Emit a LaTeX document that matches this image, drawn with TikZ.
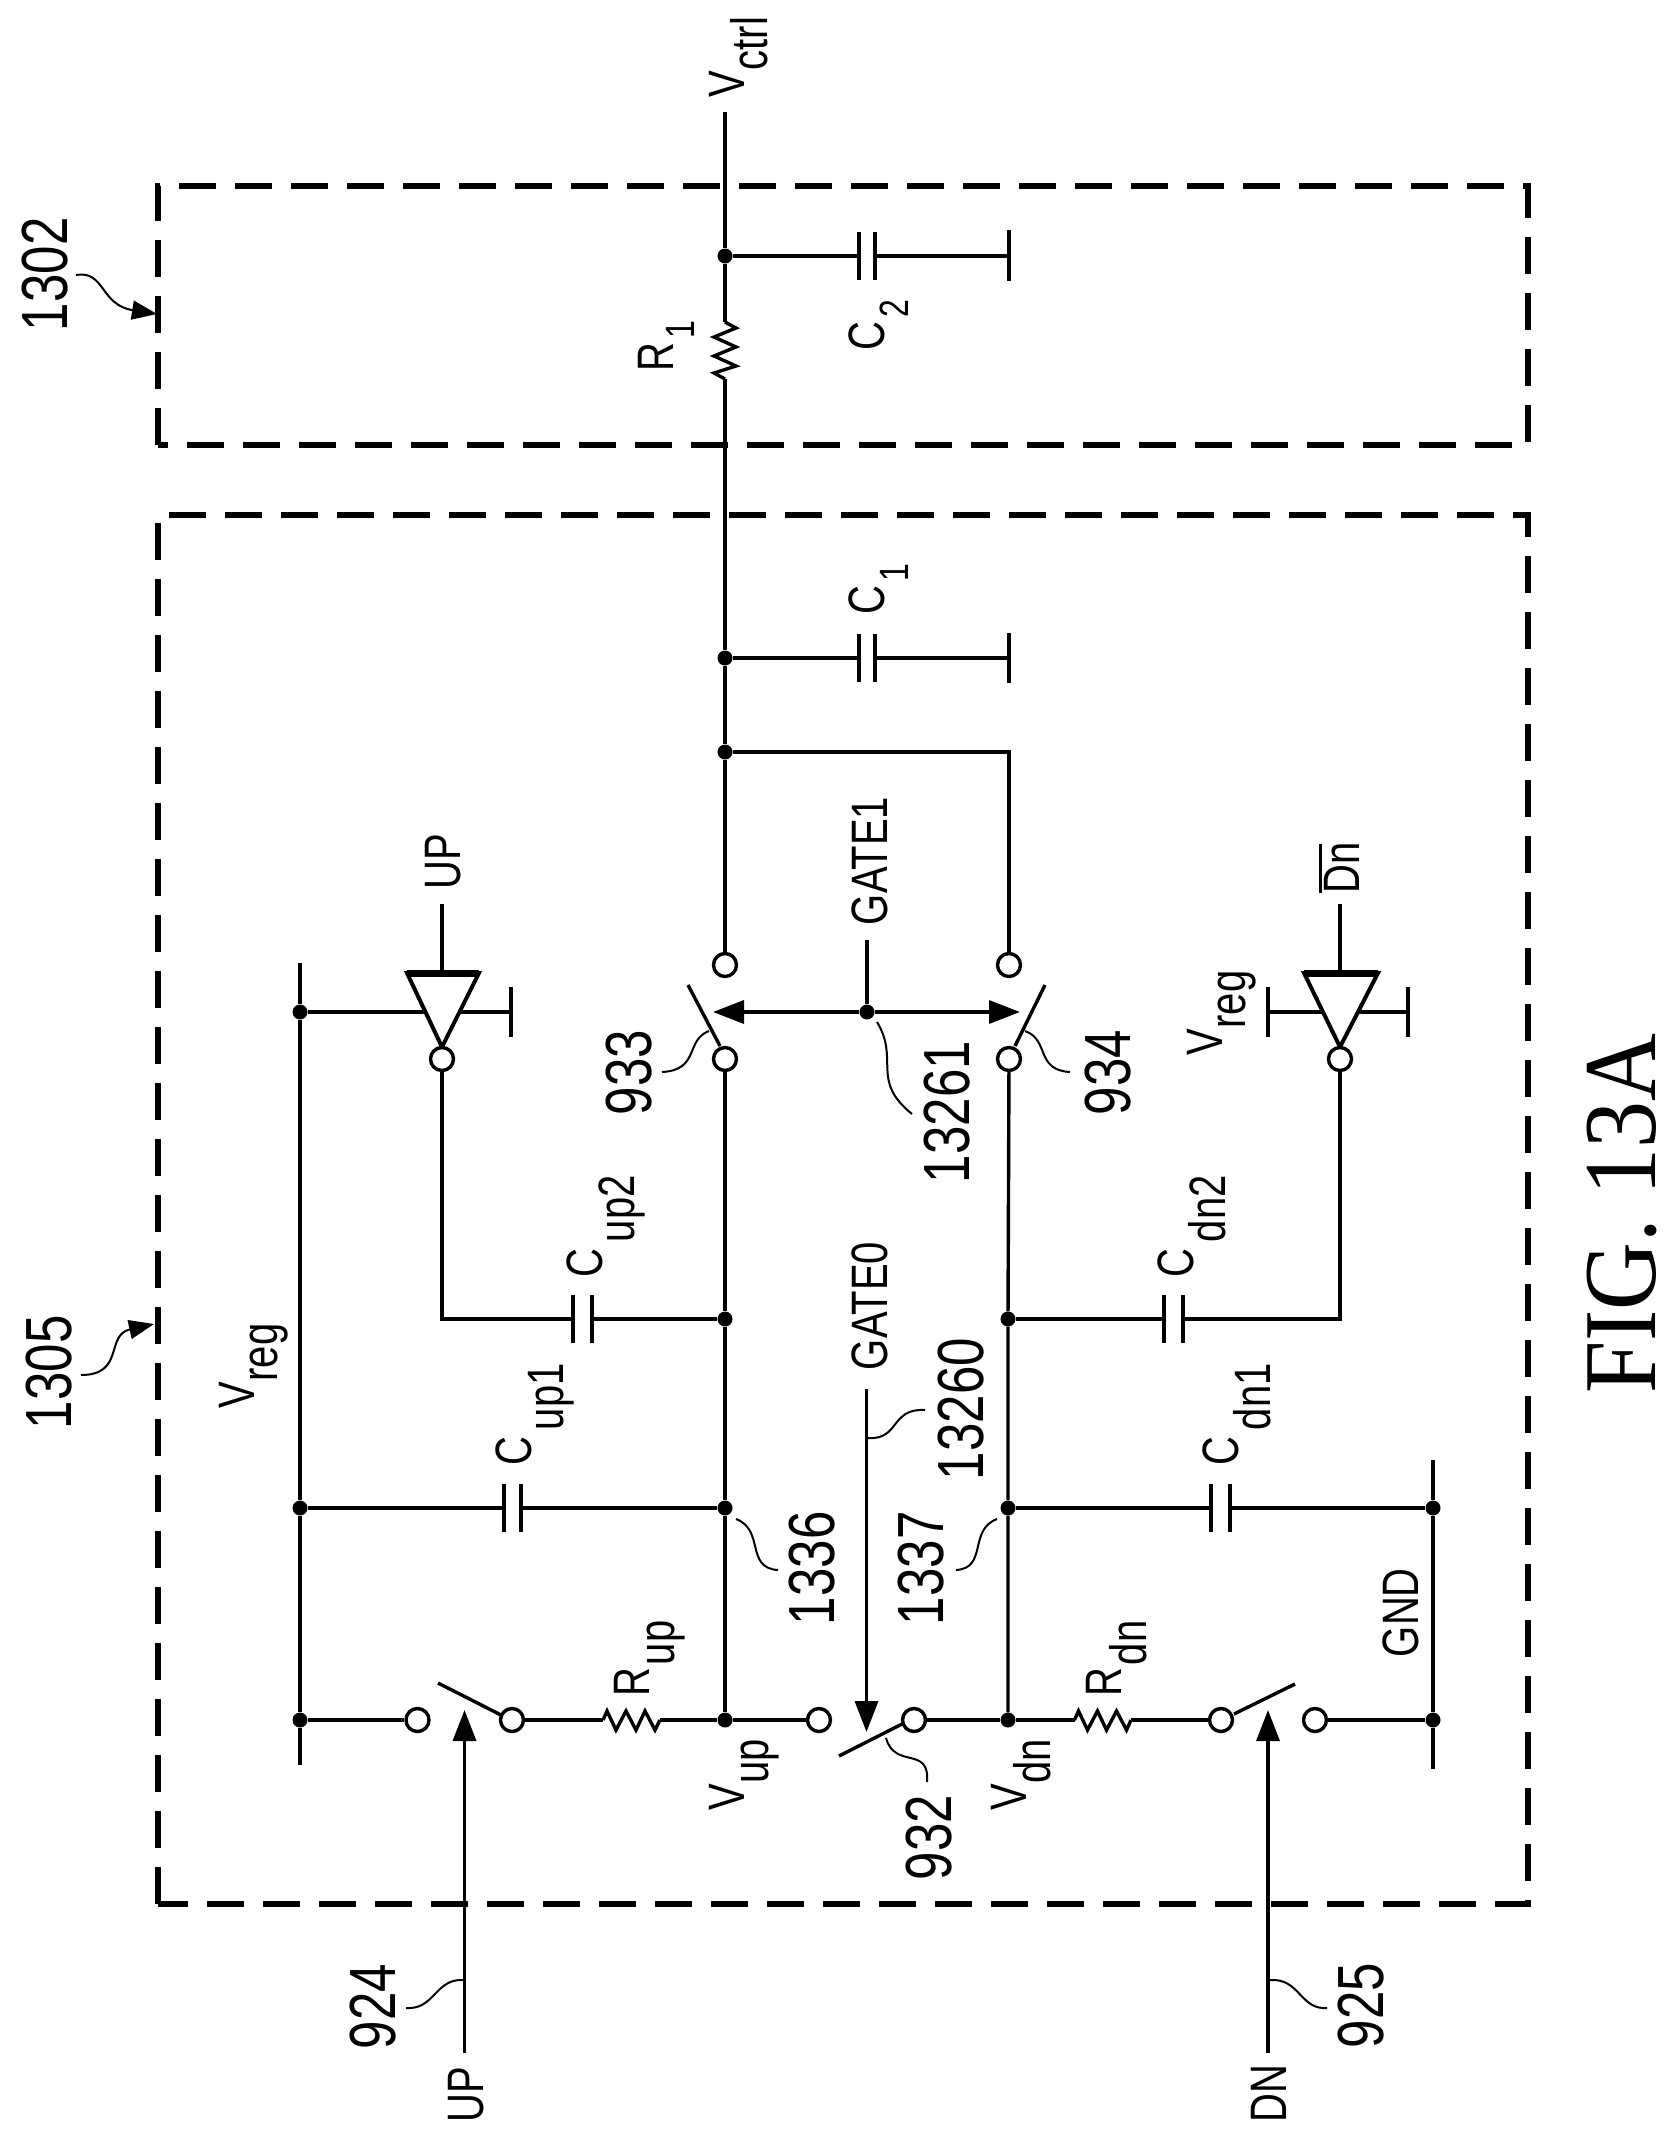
\documentclass[tikz,border=0pt]{standalone}
\usepackage{fontspec}
\setmainfont{Liberation Sans}
\newfontfamily\figfont{Liberation Serif}
\usetikzlibrary{arrows.meta}
\newcommand{\stretchtxt}[1]{\scalebox{1}[1.28]{#1}}
\newcommand{\subl}[4]{#1\hspace{#4}\raisebox{-#3}{#2}}
\newcommand{\subs}[4]{#1\hspace{#4}\raisebox{-#3}{\fontsize{32}{32}\selectfont #2}}
\tikzset{
  x=1pt,y=-1pt,
  wire/.style={line width=3.4pt,line join=miter},
  dashbox/.style={line width=6pt,dash pattern=on 37pt off 19pt},
  term/.style={circle,draw,fill=white,line width=3.4pt,minimum size=23pt,inner sep=0pt},
  junct/.style={circle,fill=black,minimum size=15pt,inner sep=0pt},
  plateV/.style={rectangle,fill=black,minimum width=3.6pt,minimum height=48pt,inner sep=0pt},
  leaderline/.style={line width=2pt},
  lever/.style={line width=3.4pt},
  ctrl/.style={line width=3.6pt,-{Triangle[length=31pt,width=23pt]}},
  leadtip/.style={line width=2pt,-{Triangle[length=25pt,width=19pt]}},
  txt/.style={rotate=90,anchor=base west,inner sep=0pt,outer sep=0pt,font=\fontsize{40}{40}\selectfont},
  big/.style={rotate=90,anchor=base west,inner sep=0pt,outer sep=0pt,font=\fontsize{51}{51}\selectfont},
}
\newcommand{\leader}[6][leaderline]{%
  \coordinate (#2-a) at #3; \coordinate (#2-b) at #6;
  \draw[#1] (#2-a) .. controls #4 and #5 .. (#2-b);}
\begin{document}
\begin{tikzpicture}
\useasboundingbox (0,0) rectangle (1668,2142);
% dashed boxes
\coordinate (b1a) at (158,445); \coordinate (b1b) at (158,186); \coordinate (b1c) at (1528,186); \coordinate (b1d) at (1528,445);
\draw[dashbox] (b1a) -- (b1b) -- (b1c) -- (b1d) -- cycle;
\coordinate (b2a) at (158,1904); \coordinate (b2b) at (158,515); \coordinate (b2c) at (1528,515); \coordinate (b2d) at (1528,1904);
\draw[dashbox] (b2a) -- (b2b) -- (b2c) -- (b2d) -- cycle;

% rails / free ends
\coordinate (vctrl) at (725,112);
\coordinate (r1t) at (725,322); \coordinate (r1b) at (725,379);
\node[junct] (j2) at (725,256) {};
\node[junct] (j1) at (725,658) {};
\node[junct] (jb) at (725,752) {};
\coordinate (c2end) at (1009,256); \coordinate (c2t) at (1009,230); \coordinate (c2u) at (1009,281);
\coordinate (c1end) at (1009,658); \coordinate (c1t) at (1009,633); \coordinate (c1u) at (1009,683);
\coordinate (bc) at (1009,752);
\node[plateV] (c2a) at (859,256) {}; \node[plateV] (c2b) at (875,256) {};
\node[plateV] (c1a) at (859,658) {}; \node[plateV] (c1b) at (875,658) {};
\draw[wire] (vctrl) -- (j2) -- (r1t);
\draw[wire] (r1t) -- ++(11,6) -- ++(-22,9) -- ++(22,10) -- ++(-22,9) -- ++(22,10) -- ++(-22,7) -- (r1b);
\draw[wire] (r1b) -- (j1) -- (jb);
\draw[wire] (j2) -- (c2a); \draw[wire] (c2b) -- (c2end); \draw[wire] (c2t) -- (c2u);
\draw[wire] (j1) -- (c1a); \draw[wire] (c1b) -- (c1end); \draw[wire] (c1t) -- (c1u);

% switches 933/934
\node[term] (s3a) at (725,965) {}; \node[term] (s3b) at (725,1059) {};
\node[term] (s4a) at (1009,965) {}; \node[term] (s4b) at (1009,1059) {};
\draw[wire] (jb) -- (s3a);
\draw[wire] (jb) -- (bc) -- (s4a);
\coordinate (l3a) at (688,985); \coordinate (l3b) at (720,1046);
\coordinate (l4a) at (1045,985); \coordinate (l4b) at (1015,1046);
\draw[lever] (l3a) -- (l3b); \draw[lever] (l4a) -- (l4b);
\node[junct] (jg) at (867,1012) {};
\coordinate (g1) at (867,940); \coordinate (t3) at (713,1012); \coordinate (t4) at (1020,1012);
\draw[wire] (g1) -- (jg);
\draw[ctrl] (jg) -- (t3); \draw[ctrl] (jg) -- (t4);

% rails
\coordinate (vregt) at (300,963); \coordinate (vregb) at (300,1765);
\node[junct] (v1) at (300,1012) {};
\node[junct] (v2) at (300,1508) {};
\node[junct] (v3) at (300,1720) {};
\draw[wire] (vregt) -- (v1) -- (v2) -- (v3) -- (vregb);
\coordinate (gndt) at (1433,1460); \coordinate (gndb) at (1433,1769);
\node[junct] (g2) at (1433,1508) {};
\node[junct] (g3) at (1433,1720) {};
\draw[wire] (gndt) -- (g2) -- (g3) -- (gndb);

% main verticals
\node[junct] (u1) at (725,1319) {};
\node[junct] (u2) at (725,1508) {};
\node[junct] (u3) at (725,1720) {};
\node[junct] (d1) at (1008,1319) {};
\node[junct] (d2) at (1008,1508) {};
\node[junct] (d3) at (1008,1720) {};
\draw[wire] (s3b) -- (u1) -- (u2) -- (u3);
\draw[wire] (s4b) -- (d1) -- (d2) -- (d3);

% inverter up
\coordinate (iu0) at (442,904); \coordinate (iu1) at (442,973);
\coordinate (iut) at (511,1012); \coordinate (iutt) at (511,987); \coordinate (iutb) at (511,1037);
\draw[wire] (v1) -- (iut); \draw[wire] (iutt) -- (iutb);
\draw[wire] (iu0) -- (iu1);
\coordinate (iua) at (407,973); \coordinate (iub) at (479,973); \coordinate (iuc) at (442,1047);
\draw[wire,line width=4pt,fill=white] (iua) -- (iub) -- (iuc) -- cycle;
\draw[line width=7pt] (iua) -- (iub);
\node[term] (iubub) at (442,1059) {};
\coordinate (iuk) at (442,1319);
\node[plateV] (cu2a) at (573,1319) {}; \node[plateV] (cu2b) at (592,1319) {};
\draw[wire] (iubub) -- (iuk) -- (cu2a); \draw[wire] (cu2b) -- (u1);

% inverter dn
\coordinate (id0) at (1340,904); \coordinate (id1) at (1340,973);
\coordinate (idl) at (1268,1012); \coordinate (idlt) at (1268,987); \coordinate (idlb) at (1268,1037);
\coordinate (idr) at (1408,1012); \coordinate (idrt) at (1408,987); \coordinate (idrb) at (1408,1037);
\draw[wire] (idl) -- (idr); \draw[wire] (idlt) -- (idlb); \draw[wire] (idrt) -- (idrb);
\draw[wire] (id0) -- (id1);
\coordinate (ida) at (1304,973); \coordinate (idb) at (1378,973); \coordinate (idc) at (1340,1047);
\draw[wire,line width=4pt,fill=white] (ida) -- (idb) -- (idc) -- cycle;
\draw[line width=7pt] (ida) -- (idb);
\node[term] (idbub) at (1340,1059) {};
\coordinate (idk) at (1340,1319);
\node[plateV] (cd2a) at (1164,1319) {}; \node[plateV] (cd2b) at (1183,1319) {};
\draw[wire] (idbub) -- (idk) -- (cd2b); \draw[wire] (cd2a) -- (d1);

% Cup1, Cdn1
\node[plateV] (cu1a) at (504,1508) {}; \node[plateV] (cu1b) at (521,1508) {};
\draw[wire] (v2) -- (cu1a); \draw[wire] (cu1b) -- (u2);
\node[plateV] (cd1a) at (1211,1508) {}; \node[plateV] (cd1b) at (1230,1508) {};
\draw[wire] (d2) -- (cd1a); \draw[wire] (cd1b) -- (g2);

% switch up row
\node[term] (su1) at (417.5,1720) {}; \node[term] (su2) at (512,1720) {};
\draw[wire] (v3) -- (su1);
\coordinate (rua) at (603,1720); \coordinate (rub) at (660,1720);
\draw[wire] (su2) -- (rua);
\draw[wire] (rua) -- ++(4,-9) -- ++(9,19) -- ++(10,-19) -- ++(10,19) -- ++(9,-19) -- ++(10,19) -- (rub);
\draw[wire] (rub) -- (u3);
\coordinate (lua) at (438,1683); \coordinate (lub) at (501,1715);
\draw[lever] (lua) -- (lub);
\coordinate (upin) at (464.5,2053); \coordinate (uptip) at (464.5,1710);
\draw[ctrl] (upin) -- (uptip);

% switch 932
\node[term] (s2a) at (819,1720) {}; \node[term] (s2b) at (914,1720) {};
\draw[wire] (u3) -- (s2a); \draw[wire] (s2b) -- (d3);
\coordinate (l2a) at (839,1756); \coordinate (l2b) at (902,1724);
\draw[lever] (l2a) -- (l2b);
\coordinate (g0in) at (866.5,1389); \coordinate (g0tip) at (866.5,1732);
\draw[ctrl] (g0in) -- (g0tip);

% switch dn row
\coordinate (rda) at (1074.5,1720); \coordinate (rdb) at (1131,1720);
\draw[wire] (d3) -- (rda);
\draw[wire] (rda) -- ++(4,-9) -- ++(9,19) -- ++(10,-19) -- ++(9,19) -- ++(10,-19) -- ++(10,19) -- (rdb);
\node[term] (sd1) at (1221,1720) {}; \node[term] (sd2) at (1315,1720) {};
\draw[wire] (rdb) -- (sd1); \draw[wire] (sd2) -- (g3);
\coordinate (lda) at (1295,1684); \coordinate (ldb) at (1234,1714);
\draw[lever] (lda) -- (ldb);
\coordinate (dnin) at (1268,2053); \coordinate (dntip) at (1268,1710);
\draw[ctrl] (dnin) -- (dntip);

% leaders
\leader{l924}{(464,1980)}{(435,1978)}{(435,2010)}{(406,2008)}
\leader{l925}{(1270,1980)}{(1300,1978)}{(1300,2010)}{(1327,2008)}
\leader{l1336}{(736,1519)}{(765,1530)}{(745,1568)}{(778,1570)}
\leader{l1337}{(997,1519)}{(968,1530)}{(988,1568)}{(956,1570)}
\leader{l13260}{(868,1438)}{(900,1440)}{(890,1408)}{(925,1410)}
\leader{l932}{(886,1738)}{(895,1770)}{(930,1745)}{(927,1782)}
\leader{l933}{(709,1031)}{(685,1040)}{(700,1070)}{(662,1072)}
\leader{l934}{(1025,1031)}{(1050,1040)}{(1035,1070)}{(1070,1072)}
\leader{l13261}{(877,1022)}{(900,1060)}{(870,1080)}{(912,1114)}
\leader[leadtip]{l1305}{(81,1375)}{(125,1375)}{(105,1335)}{(154,1324)}
\leader[leadtip]{l1302}{(76,275)}{(105,270)}{(100,305)}{(157,314)}

% labels
\node[big] (n1305) at (71,1429) {\stretchtxt{1305}};
\node[big] (n1302) at (67,331) {\stretchtxt{1302}};
\node[big] (n924) at (395,2049) {\stretchtxt{924}};
\node[big] (n925) at (1383,2048) {\stretchtxt{925}};
\node[big] (n1336) at (834,1625) {\stretchtxt{1336}};
\node[big] (n1337) at (943,1625) {\stretchtxt{1337}};
\node[big] (n13260) at (983,1480) {\stretchtxt{13260}};
\node[big] (n932) at (951,1880) {\stretchtxt{932}};
\node[big] (n933) at (651,1115) {\stretchtxt{933}};
\node[big] (n934) at (1130,1115) {\stretchtxt{934}};
\node[big] (n13261) at (969,1183) {\stretchtxt{13261}};
\node[txt] (tup) at (483,2122) {\stretchtxt{UP}};
\node[txt] (tdn) at (1286,2122) {\stretchtxt{DN}};
\node[txt] (tg0) at (887,1370) {\stretchtxt{GATE0}};
\node[txt] (tg1) at (887,925) {\stretchtxt{GATE1}};
\node[txt] (tiup) at (460,889) {\stretchtxt{UP}};
\node[txt] (tidn) at (1359,893) {\stretchtxt{\rlap{\rule[29pt]{49pt}{2.6pt}}Dn}};
\node[txt] (tgnd) at (1418,1657) {\stretchtxt{GND}};
\node[txt] (tvreg) at (254,1408) {\stretchtxt{\subl{V}{reg}{18pt}{0pt}}};
\node[txt] (tvreg2) at (1222,1055) {\stretchtxt{\subl{V}{reg}{18pt}{0pt}}};
\node[txt] (tvup) at (744,1810) {\stretchtxt{\subl{V}{up}{19pt}{0pt}}};
\node[txt] (tvdn) at (1026,1810) {\stretchtxt{\subl{V}{dn}{19pt}{0pt}}};
\node[txt] (tvctrl) at (744,97) {\stretchtxt{\subl{V}{ctrl}{18pt}{0pt}}};
\node[txt] (tcu1) at (531,1465) {\stretchtxt{\subl{C}{up1}{25pt}{6pt}}};
\node[txt] (tcd1) at (1238,1465) {\stretchtxt{\subl{C}{dn1}{25pt}{6pt}}};
\node[txt] (tcu2) at (602,1277) {\stretchtxt{\subl{C}{up2}{25pt}{6pt}}};
\node[txt] (tcd2) at (1193,1277) {\stretchtxt{\subl{C}{dn2}{25pt}{6pt}}};
\node[txt] (tc1) at (884,614) {\stretchtxt{\subs{C}{1}{19pt}{4pt}}};
\node[txt] (tc2) at (884,350) {\stretchtxt{\subs{C}{2}{19pt}{4pt}}};
\node[txt] (tr1) at (673,371) {\stretchtxt{\subs{R}{1}{17pt}{4pt}}};
\node[txt] (tru) at (649,1696) {\stretchtxt{\subl{R}{up}{20pt}{2pt}}};
\node[txt] (trd) at (1121,1696) {\stretchtxt{\subl{R}{dn}{20pt}{2pt}}};
\node[rotate=90,anchor=base west,inner sep=0pt] (fig) at (1655,1394) {\figfont\fontsize{94}{94}\selectfont\scalebox{1}[1.1]{FIG. 13A}};
\end{tikzpicture}
\end{document}
